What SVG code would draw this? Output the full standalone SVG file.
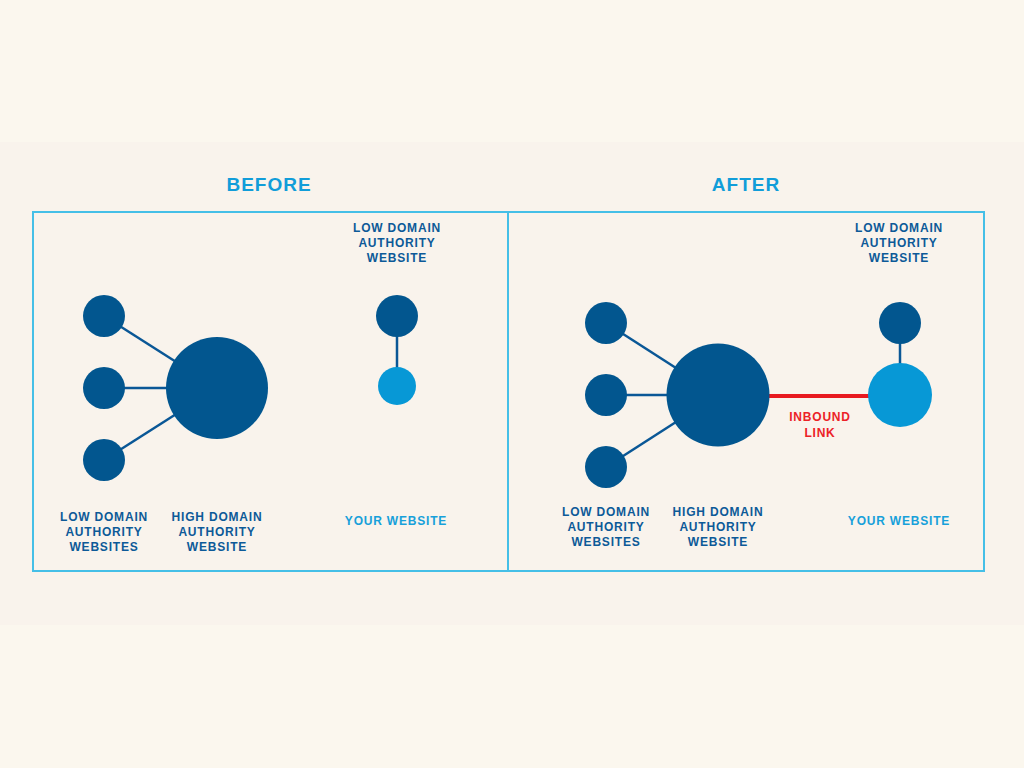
<svg xmlns="http://www.w3.org/2000/svg" width="1024" height="768" viewBox="0 0 1024 768">
<style>
.t{font-family:"Liberation Sans",Arial,sans-serif;font-weight:bold;text-anchor:middle}
.h{font-size:19px;fill:#119dd9;letter-spacing:1px}
.l{font-size:12px;fill:#0d5a98;letter-spacing:0.8px}
.y{font-size:12px;fill:#17a0da;letter-spacing:0.8px}
.r{font-size:12px;fill:#ec2227;letter-spacing:0.8px}
.dk{fill:#02568f}
.lt{fill:#0798d6}
.e{stroke:#0a5796;stroke-width:2.5}
.box{fill:none;stroke:#45bfe7;stroke-width:2}
</style>
<rect width="1024" height="768" fill="#fbf7ee"/>
<rect y="142" width="1024" height="483" fill="#f9f3ec"/>
<text class="t h" x="269" y="191">BEFORE</text>
<text class="t h" x="746" y="191">AFTER</text>
<rect class="box" x="33" y="212" width="951" height="359"/>
<line class="box" x1="508" y1="212" x2="508" y2="571"/>
<g id="connectors">
<line class="e" x1="104" y1="316" x2="217" y2="388"/>
<line class="e" x1="104" y1="388" x2="217" y2="388"/>
<line class="e" x1="104" y1="460" x2="217" y2="388"/>
<line class="e" x1="397" y1="316" x2="397" y2="386"/>
<line class="e" x1="606" y1="323" x2="718" y2="395"/>
<line class="e" x1="606" y1="395" x2="718" y2="395"/>
<line class="e" x1="606" y1="467" x2="718" y2="395"/>
<line class="e" x1="900" y1="323" x2="900" y2="395"/>
<line x1="718" y1="396" x2="900" y2="396" stroke="#e8191f" stroke-width="4"/>
</g>
<g id="before-low1"><circle class="dk" cx="104" cy="316" r="21"/></g>
<g id="before-low2"><circle class="dk" cx="104" cy="388" r="21"/></g>
<g id="before-low3"><circle class="dk" cx="104" cy="460" r="21"/></g>
<g id="before-high"><circle class="dk" cx="217" cy="388" r="51"/></g>
<g id="before-lowsite"><circle class="dk" cx="397" cy="316" r="21"/></g>
<g id="before-your"><circle class="lt" cx="397" cy="386" r="19"/></g>
<g id="after-low1"><circle class="dk" cx="606" cy="323" r="21"/></g>
<g id="after-low2"><circle class="dk" cx="606" cy="395" r="21"/></g>
<g id="after-low3"><circle class="dk" cx="606" cy="467" r="21"/></g>
<g id="after-high"><circle class="dk" cx="718" cy="395" r="51.5"/></g>
<g id="after-lowsite"><circle class="dk" cx="900" cy="323" r="21"/></g>
<g id="after-your"><circle class="lt" cx="900" cy="395" r="32"/></g>
<g id="labels">
<text class="t l" x="397" y="232">LOW DOMAIN</text>
<text class="t l" x="397" y="247">AUTHORITY</text>
<text class="t l" x="397" y="262">WEBSITE</text>
<text class="t l" x="104" y="521">LOW DOMAIN</text>
<text class="t l" x="104" y="536">AUTHORITY</text>
<text class="t l" x="104" y="551">WEBSITES</text>
<text class="t l" x="217" y="521">HIGH DOMAIN</text>
<text class="t l" x="217" y="536">AUTHORITY</text>
<text class="t l" x="217" y="551">WEBSITE</text>
<text class="t y" x="396" y="525">YOUR WEBSITE</text>
<text class="t l" x="899" y="232">LOW DOMAIN</text>
<text class="t l" x="899" y="247">AUTHORITY</text>
<text class="t l" x="899" y="262">WEBSITE</text>
<text class="t l" x="606" y="516">LOW DOMAIN</text>
<text class="t l" x="606" y="531">AUTHORITY</text>
<text class="t l" x="606" y="546">WEBSITES</text>
<text class="t l" x="718" y="516">HIGH DOMAIN</text>
<text class="t l" x="718" y="531">AUTHORITY</text>
<text class="t l" x="718" y="546">WEBSITE</text>
<text class="t y" x="899" y="525">YOUR WEBSITE</text>
<text class="t r" x="820" y="421">INBOUND</text>
<text class="t r" x="820" y="437">LINK</text>
</g>
</svg>
